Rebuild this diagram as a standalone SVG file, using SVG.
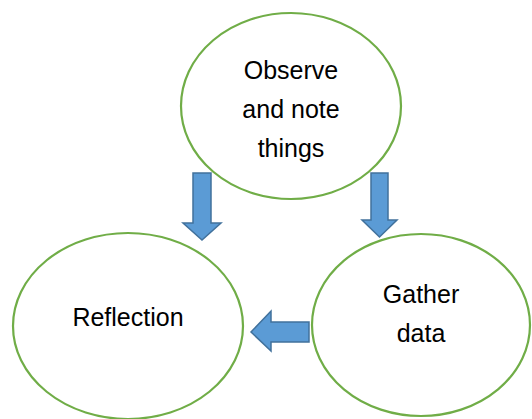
<svg xmlns="http://www.w3.org/2000/svg" width="532" height="419" viewBox="0 0 532 419">
  <style>
    .node { fill: #ffffff; stroke: #70AD47; stroke-width: 2.2; }
    .label { font-family: "Liberation Sans", Arial, sans-serif; font-size: 25px; fill: #000000; text-anchor: middle; }
    .arrow { fill: #5B9BD5; stroke: #41719C; stroke-width: 1.5; stroke-linejoin: miter; }
  </style>
  <rect width="532" height="419" fill="#ffffff"/>

  <g id="observe">
    <ellipse class="node" cx="291" cy="106" rx="110" ry="93"/>
    <text class="label" x="291" y="79">Observe</text>
    <text class="label" x="291" y="118">and note</text>
    <text class="label" x="291" y="157">things</text>
  </g>

  <g id="reflection">
    <ellipse class="node" cx="128" cy="326" rx="115" ry="93"/>
    <text class="label" x="128" y="326">Reflection</text>
  </g>

  <g id="gather">
    <ellipse class="node" cx="421" cy="325" rx="109" ry="91"/>
    <text class="label" x="421" y="303">Gather</text>
    <text class="label" x="421" y="342">data</text>
  </g>

  <g id="connectors">
    <polygon class="arrow" points="193,173 211,173 211,223 221,223 202,240 183,223 193,223"/>
    <polygon class="arrow" points="371,173 388,173 388,220 397,220 379.5,237 362,220 371,220"/>
    <polygon class="arrow" points="309,322 309,342 271,342 271,351 251,332 271,311 271,322"/>
  </g>
</svg>
